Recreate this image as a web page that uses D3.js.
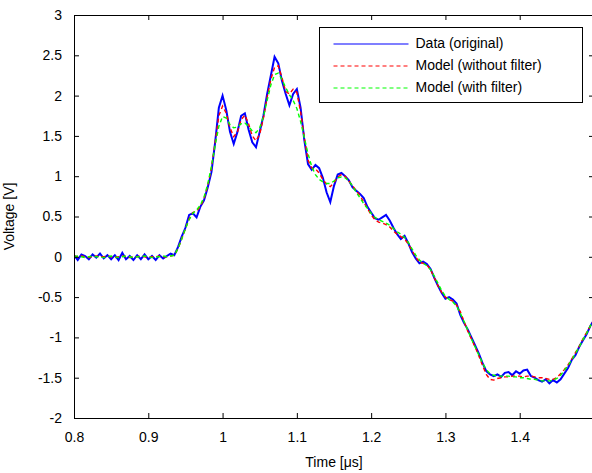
<!DOCTYPE html>
<html>
<head>
<meta charset="utf-8">
<script src="https://cdn.jsdelivr.net/npm/d3@7"></script>
<style>
  body { margin: 0; background: #fff; }
  svg { display: block; font-family: "Liberation Sans", Arial, sans-serif; }
</style>
</head>
<body>
<div id="chart"></div>
<script>
// sampling of the time axis (µs)
var tStart = 0.8, tStep = 0.005;

var dataOriginal = [
  0.02, -0.04, 0.03, 0.01, -0.03, 0.03, -0.01, 0.04, -0.02, 0.02,
  -0.03, 0.02, -0.04, 0.05, -0.03, 0.01, -0.04, 0.02, -0.03, 0.03,
  -0.03, 0.01, -0.04, 0.02, -0.02, 0.01, 0.04,
  0.02, 0.12, 0.25, 0.36, 0.52, 0.54, 0.49, 0.62, 0.70, 0.86,
  1.05, 1.42, 1.85, 2.00, 1.82, 1.55, 1.40, 1.55, 1.75, 1.78,
  1.58, 1.42, 1.36, 1.55, 1.75, 2.02, 2.25, 2.48, 2.40, 2.18,
  2.02, 1.88, 2.02, 2.08, 1.85, 1.45, 1.15, 1.08, 1.14, 1.10,
  0.98, 0.80, 0.68, 0.88, 1.02, 1.04, 1.00, 0.95, 0.86, 0.82,
  0.78, 0.73, 0.62, 0.55, 0.48, 0.46, 0.49, 0.52, 0.45, 0.36,
  0.28, 0.22, 0.26, 0.17, 0.06, -0.02, -0.08, -0.06, -0.09, -0.15,
  -0.26, -0.36, -0.45, -0.52, -0.50, -0.53, -0.58, -0.72, -0.82, -0.90,
  -1.00, -1.10, -1.20, -1.32, -1.42, -1.46, -1.48, -1.46, -1.49, -1.44,
  -1.43, -1.47, -1.42, -1.45, -1.41, -1.40, -1.48, -1.50, -1.53, -1.55,
  -1.52, -1.57, -1.53, -1.56, -1.52, -1.45, -1.38, -1.28, -1.22, -1.12,
  -1.04, -0.96, -0.86, -0.78
];

var modelNoFilter = [
  0.01, 0.00, 0.01, 0.00, -0.01, 0.00, 0.01, 0.00, 0.00, 0.01,
  0.00, -0.01, 0.00, 0.01, 0.00, -0.01, 0.00, 0.00, 0.01, 0.00,
  -0.01, 0.00, 0.00, 0.01, 0.00, 0.00, 0.01,
  0.02, 0.10, 0.22, 0.35, 0.47, 0.55, 0.57, 0.62, 0.72, 0.88,
  1.10, 1.42, 1.75, 1.87, 1.78, 1.60, 1.49, 1.55, 1.70, 1.76,
  1.65, 1.50, 1.44, 1.52, 1.72, 1.98, 2.20, 2.35, 2.37, 2.22,
  2.05, 2.02, 2.08, 2.04, 1.80, 1.48, 1.20, 1.10, 1.09, 1.04,
  0.96, 0.90, 0.87, 0.92, 0.99, 1.02, 1.00, 0.94, 0.88, 0.82,
  0.76, 0.68, 0.60, 0.52, 0.46, 0.43, 0.42, 0.40, 0.37, 0.32,
  0.28, 0.25, 0.22, 0.16, 0.08, 0.00, -0.07, -0.08, -0.10, -0.16,
  -0.26, -0.36, -0.44, -0.50, -0.53, -0.55, -0.60, -0.68, -0.80, -0.92,
  -1.02, -1.12, -1.23, -1.35, -1.46, -1.52, -1.53, -1.51, -1.50, -1.49,
  -1.49, -1.48, -1.48, -1.48, -1.49, -1.48, -1.48, -1.49, -1.50, -1.50,
  -1.51, -1.52, -1.52, -1.50, -1.45, -1.40, -1.34, -1.27, -1.19, -1.11,
  -1.02, -0.94, -0.86, -0.78
];

var modelFilter = [
  0.00, 0.01, 0.00, -0.01, 0.00, 0.01, 0.00, 0.00, -0.01, 0.00,
  0.01, 0.00, -0.01, 0.00, 0.01, 0.00, -0.01, 0.00, 0.00, 0.01,
  0.00, -0.01, 0.00, 0.00, 0.01, 0.00, 0.01,
  0.02, 0.10, 0.22, 0.35, 0.46, 0.54, 0.58, 0.64, 0.74, 0.90,
  1.12, 1.38, 1.62, 1.74, 1.72, 1.64, 1.60, 1.61, 1.65, 1.66,
  1.62, 1.56, 1.54, 1.60, 1.74, 1.94, 2.13, 2.26, 2.28, 2.20,
  2.10, 2.01, 1.94, 1.84, 1.68, 1.48, 1.28, 1.12, 1.02, 0.96,
  0.93, 0.91, 0.91, 0.94, 0.98, 0.99, 0.98, 0.94, 0.88, 0.80,
  0.73, 0.66, 0.60, 0.54, 0.49, 0.46, 0.44, 0.42, 0.39, 0.35,
  0.31, 0.28, 0.24, 0.18, 0.10, 0.02, -0.04, -0.08, -0.11, -0.16,
  -0.24, -0.33, -0.42, -0.49, -0.53, -0.56, -0.61, -0.70, -0.80, -0.91,
  -1.02, -1.12, -1.22, -1.32, -1.40, -1.45, -1.47, -1.48, -1.48, -1.48,
  -1.48, -1.49, -1.49, -1.50, -1.50, -1.51, -1.52, -1.52, -1.53, -1.54,
  -1.54, -1.54, -1.53, -1.51, -1.47, -1.41, -1.35, -1.28, -1.20, -1.12,
  -1.03, -0.95, -0.86, -0.77
];

var xTicks = [0.8, 0.9, 1.0, 1.1, 1.2, 1.3, 1.4];
var yTicks = [-2, -1.5, -1, -0.5, 0, 0.5, 1, 1.5, 2, 2.5, 3];
var seriesNames = ["Data (original)", "Model (without filter)", "Model (with filter)"];

var W = 592, H = 473;
var margin = {top: 15, right: -2, bottom: 55, left: 74},
    width = W - margin.left - margin.right,
    height = H - margin.top - margin.bottom;

var x = d3.scaleLinear().domain([0.8, 1.5]).range([0, width]);
var y = d3.scaleLinear().domain([-2, 3]).range([height, 0]);

function toPoints(vals) {
  return vals.map(function(v, i) { return {t: tStart + i * tStep, v: v}; });
}

// plain hyphen for negatives, like the original figure
var fmt = function(d) { return d3.format("~g")(d).replace("\u2212", "-"); };

var series = [
  {name: seriesNames[0], pts: toPoints(dataOriginal), color: "#0000ff", dash: null, w: 2},
  {name: seriesNames[1], pts: toPoints(modelNoFilter), color: "#ff0000", dash: "4,3", w: 1.4},
  {name: seriesNames[2], pts: toPoints(modelFilter), color: "#00ff00", dash: "4,3", w: 1.4}
];

var svg = d3.select("#chart").append("svg")
    .attr("width", W)
    .attr("height", H);

var g = svg.append("g")
    .attr("transform", "translate(" + margin.left + "," + margin.top + ")");

g.append("clipPath").attr("id", "clip")
  .append("rect").attr("width", width).attr("height", height);

var line = d3.line()
    .x(function(d) { return x(d.t); })
    .y(function(d) { return y(d.v); });

g.append("g").attr("clip-path", "url(#clip)")
  .selectAll("path")
  .data(series)
  .enter().append("path")
    .attr("fill", "none")
    .style("stroke", function(d) { return d.color; })
    .attr("stroke-width", function(d) { return d.w; })
    .attr("stroke-dasharray", function(d) { return d.dash; })
    .attr("d", function(d) { return line(d.pts); });

// axes, MATLAB style: inward ticks on all four sides
function styleAxis(sel) {
  sel.select(".domain").remove();
  sel.selectAll(".tick line").attr("stroke", "#000");
  sel.selectAll(".tick text").attr("fill", "#000").style("font-size", "14px");
}

g.append("g")
    .attr("transform", "translate(0," + height + ")")
    .call(d3.axisBottom(x).tickValues(xTicks).tickSizeInner(-5).tickPadding(14).tickFormat(fmt))
    .call(styleAxis);

g.append("g")
    .call(d3.axisTop(x).tickValues(xTicks).tickSizeInner(-5).tickFormat(""))
    .call(styleAxis);

g.append("g")
    .call(d3.axisLeft(y).tickValues(yTicks).tickSizeInner(-5).tickPadding(12).tickFormat(fmt))
    .call(styleAxis);

g.append("g")
    .attr("transform", "translate(" + width + ",0)")
    .call(d3.axisRight(y).tickValues(yTicks).tickSizeInner(-5).tickFormat(""))
    .call(styleAxis);

g.append("rect")
    .attr("x", 0.5).attr("y", 0.5)
    .attr("width", width).attr("height", height)
    .attr("fill", "none").attr("stroke", "#000").attr("stroke-width", 1);

g.append("text")
    .attr("x", width / 2)
    .attr("y", height + 49)
    .attr("text-anchor", "middle")
    .style("font-size", "14px")
    .text("Time [\u03bcs]");

g.append("text")
    .attr("transform", "rotate(-90)")
    .attr("x", -height / 2)
    .attr("y", -60)
    .attr("text-anchor", "middle")
    .style("font-size", "14px")
    .text("Voltage [V]");

// legend
var legend = svg.append("g").attr("transform", "translate(319.5,27.5)");
legend.append("rect")
    .attr("width", 263).attr("height", 75)
    .attr("fill", "#fff").attr("stroke", "#000").attr("stroke-width", 1);

var item = legend.selectAll("g.item")
    .data(series)
  .enter().append("g")
    .attr("class", "item")
    .attr("transform", function(d, i) { return "translate(0," + (16 + i * 22) + ")"; });

item.append("line")
    .attr("x1", 14).attr("x2", 89)
    .attr("y1", 0.5).attr("y2", 0.5)
    .style("stroke", function(d) { return d.color; })
    .attr("stroke-width", 1.2)
    .attr("stroke-dasharray", function(d) { return d.dash; });

item.append("text")
    .attr("x", 96)
    .attr("dy", "0.35em")
    .style("font-size", "14px")
    .text(function(d) { return d.name; });
</script>
</body>
</html>
